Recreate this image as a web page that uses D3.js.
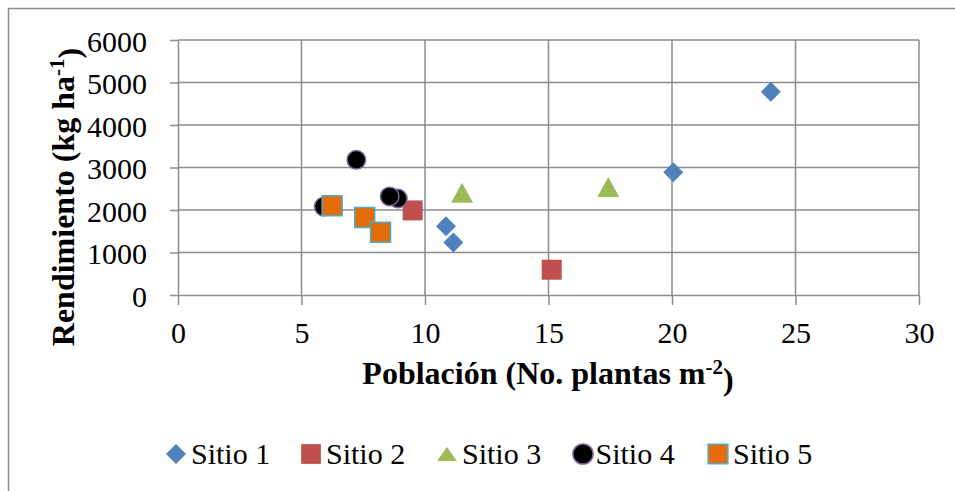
<!DOCTYPE html>
<html>
<head>
<meta charset="utf-8">
<script src="https://cdn.jsdelivr.net/npm/d3@7"></script>
<style>
  html, body { margin: 0; padding: 0; background: #fff; }
</style>
</head>
<body>
<svg id="chart" width="955" height="491"></svg>
<script>
// Población (plantas m-2) vs. rendimiento (kg ha-1) por sitio
const sitio1X = [24.0, 20.05, 10.85, 11.15];
const sitio1Y = [4780, 2890, 1615, 1235];
const sitio2X = [9.5, 15.13];
const sitio2Y = [1990, 595];
const sitio3X = [11.5, 17.42];
const sitio3Y = [2385, 2520];
const sitio4X = [5.9, 7.22, 8.9, 8.57];
const sitio4Y = [2080, 3180, 2270, 2320];
const sitio5X = [6.24, 7.56, 8.2];
const sitio5Y = [2100, 1825, 1475];

const seriesNames = ["Sitio 1", "Sitio 2", "Sitio 3", "Sitio 4", "Sitio 5"];
const xTicks = [0, 5, 10, 15, 20, 25, 30];
const yTicks = [0, 1000, 2000, 3000, 4000, 5000, 6000];

const series = [
  { name: seriesNames[0], xs: sitio1X, ys: sitio1Y, shape: "diamond", fill: "#4F81BD", stroke: "none", sw: 0 },
  { name: seriesNames[1], xs: sitio2X, ys: sitio2Y, shape: "square", fill: "#C0504D", stroke: "none", sw: 0 },
  { name: seriesNames[2], xs: sitio3X, ys: sitio3Y, shape: "triangle", fill: "#9BBB59", stroke: "none", sw: 0 },
  { name: seriesNames[3], xs: sitio4X, ys: sitio4Y, shape: "circle", fill: "#000000", stroke: "#8064A2", sw: 1.5 },
  { name: seriesNames[4], xs: sitio5X, ys: sitio5Y, shape: "square", fill: "#E46C0A", stroke: "#4BACC6", sw: 1.5 }
];

const FONT = "Liberation Serif";
const svg = d3.select("#chart").attr("font-family", FONT);
const plot = { left: 178, right: 919, top: 40, bottom: 295 };

const x = d3.scaleLinear().domain([0, 30]).range([plot.left, plot.right]);
const y = d3.scaleLinear().domain([0, 6000]).range([plot.bottom, plot.top]);

// outer chart frame
svg.append("rect")
  .attr("x", 8.5).attr("y", 8.5).attr("width", 1000).attr("height", 600)
  .attr("fill", "none").attr("stroke", "#8a8a8a").attr("stroke-width", 1.5);

const gridColor = "#8c8c8c";

// vertical gridlines
svg.append("g").selectAll("line").data(xTicks.slice(1)).join("line")
  .attr("x1", d => x(d)).attr("x2", d => x(d))
  .attr("y1", plot.top).attr("y2", plot.bottom)
  .attr("stroke", gridColor).attr("stroke-width", 1.5);

// horizontal gridlines
svg.append("g").selectAll("line").data(yTicks.slice(1)).join("line")
  .attr("x1", plot.left).attr("x2", plot.right)
  .attr("y1", d => y(d)).attr("y2", d => y(d))
  .attr("stroke", gridColor).attr("stroke-width", 1.5);

// axes
const xAxis = d3.axisBottom(x).tickValues(xTicks).tickFormat(d3.format("d"))
  .tickSize(10).tickPadding(17).tickSizeOuter(0);
const yAxis = d3.axisLeft(y).tickValues(yTicks).tickFormat(d3.format("d"))
  .tickSize(8).tickPadding(23).tickSizeOuter(0);

const gx = svg.append("g").attr("transform", `translate(0,${plot.bottom})`).call(xAxis);
const gy = svg.append("g").attr("transform", `translate(${plot.left},0)`).call(yAxis);

[gx, gy].forEach(g => {
  g.attr("font-family", FONT).attr("font-size", 30);
  g.selectAll("path.domain").attr("stroke", gridColor).attr("stroke-width", 1.5);
  g.selectAll(".tick line").attr("stroke", gridColor).attr("stroke-width", 1.5);
  g.selectAll(".tick text").attr("fill", "#000");
});
gy.selectAll(".tick text").attr("dy", "0.38em");

// axis titles
const yTitle = svg.append("text")
  .attr("transform", "translate(74,197) rotate(-90)")
  .attr("text-anchor", "middle")
  .attr("font-size", 32).attr("font-weight", "bold");
yTitle.append("tspan").text("Rendimiento (kg ha");
yTitle.append("tspan").text("-1").attr("dy", "-0.5em").attr("font-size", 21);
yTitle.append("tspan").text(")").attr("dy", "0.5em");

const xTitle = svg.append("text")
  .attr("x", 548).attr("y", 384)
  .attr("text-anchor", "middle")
  .attr("font-size", 32).attr("font-weight", "bold");
xTitle.append("tspan").text("Población (No. plantas m");
xTitle.append("tspan").text("-2").attr("dy", "-0.5em").attr("font-size", 21);
xTitle.append("tspan").text(")").attr("dy", "0.5em");

// marker paths
function markerPath(shape, legendItem) {
  switch (shape) {
    case "diamond": return d3.symbol().type(d3.symbolSquare).size(200)();
    case "square": return d3.symbol().type(d3.symbolSquare).size(legendItem ? 390 : 400)();
    case "triangle": return legendItem ? "M0,-7L10,7L-10,7Z" : "M0,-11L11,9L-11,9Z";
    case "circle": return d3.symbol().type(d3.symbolCircle).size(legendItem ? 320 : 270)();
  }
}
function markerRotate(shape) { return shape === "diamond" ? 45 : 0; }

// data points
series.forEach(s => {
  const pts = s.xs.map((v, i) => [v, s.ys[i]]);
  svg.append("g").selectAll("path").data(pts).join("path")
    .attr("d", markerPath(s.shape, false))
    .attr("transform", d => `translate(${x(d[0])},${y(d[1])}) rotate(${markerRotate(s.shape)})`)
    .attr("fill", s.fill)
    .attr("stroke", s.stroke)
    .attr("stroke-width", s.sw);
});

// legend
const legendX = [176, 311, 447, 583, 718];
const legend = svg.append("g");
series.forEach((s, i) => {
  const g = legend.append("g").attr("transform", `translate(${legendX[i]},454)`);
  g.append("path")
    .attr("d", markerPath(s.shape, true))
    .attr("transform", `rotate(${markerRotate(s.shape)})`)
    .attr("fill", s.fill).attr("stroke", s.stroke).attr("stroke-width", s.sw);
  g.append("text")
    .attr("x", s.shape === "circle" ? 12.5 : 15).attr("y", 9.5)
    .attr("font-size", 30)
    .text(s.name);
});
</script>
</body>
</html>
